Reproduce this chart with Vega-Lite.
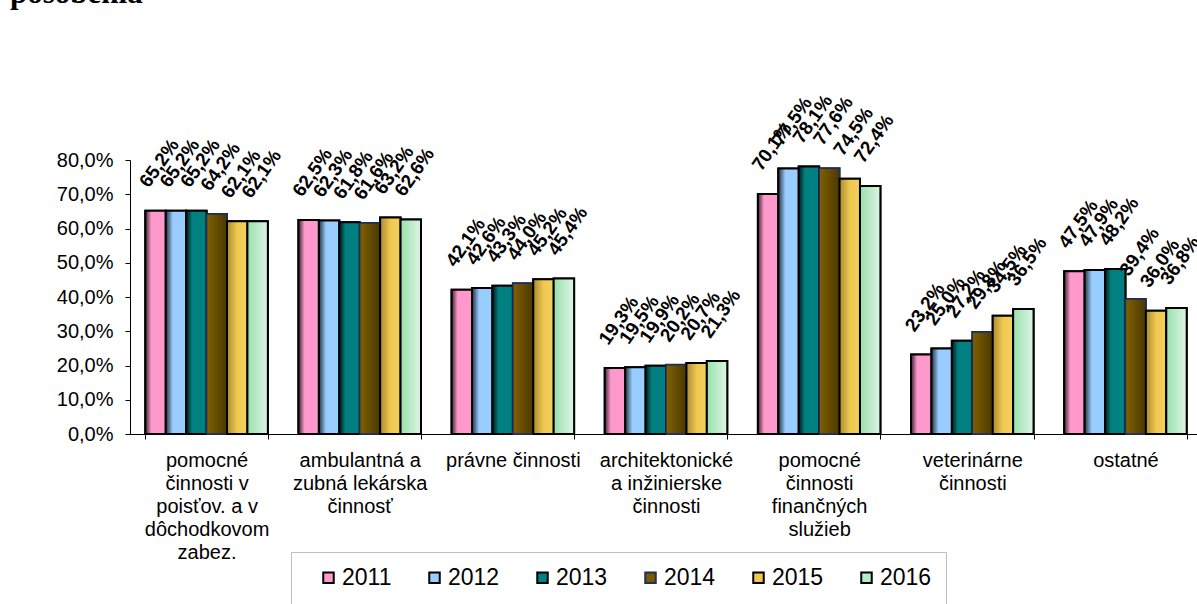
{
  "$schema": "https://vega.github.io/schema/vega-lite/v6.json",
  "width": 1067,
  "height": 274,
  "autosize": {"type": "none"},
  "padding": {"left": 130, "top": 160, "right": 0, "bottom": 170},
  "background": "white",
  "title": {
    "text": "posobenia",
    "font": "Liberation Serif",
    "fontSize": 31,
    "fontWeight": "bold",
    "color": "black",
    "anchor": "start",
    "frame": "group",
    "baseline": "alphabetic",
    "offset": 92,
    "dx": -120,
    "dy": 34
  },
  "config": {
    "locale": {"number": {"decimal": ",", "thousands": " ", "grouping": [3], "currency": ["", " €"]}},
    "view": {"stroke": null},
    "font": "Liberation Sans"
  },
  "data": {
    "values": [
      {"cat": "pomocné činnosti v poisťov. a v dôchodkovom zabez.", "year": "2011", "v": 0.652},
      {"cat": "pomocné činnosti v poisťov. a v dôchodkovom zabez.", "year": "2012", "v": 0.652},
      {"cat": "pomocné činnosti v poisťov. a v dôchodkovom zabez.", "year": "2013", "v": 0.652},
      {"cat": "pomocné činnosti v poisťov. a v dôchodkovom zabez.", "year": "2014", "v": 0.642},
      {"cat": "pomocné činnosti v poisťov. a v dôchodkovom zabez.", "year": "2015", "v": 0.621},
      {"cat": "pomocné činnosti v poisťov. a v dôchodkovom zabez.", "year": "2016", "v": 0.621},
      {"cat": "ambulantná a zubná lekárska činnosť", "year": "2011", "v": 0.625},
      {"cat": "ambulantná a zubná lekárska činnosť", "year": "2012", "v": 0.623},
      {"cat": "ambulantná a zubná lekárska činnosť", "year": "2013", "v": 0.618},
      {"cat": "ambulantná a zubná lekárska činnosť", "year": "2014", "v": 0.616},
      {"cat": "ambulantná a zubná lekárska činnosť", "year": "2015", "v": 0.632},
      {"cat": "ambulantná a zubná lekárska činnosť", "year": "2016", "v": 0.626},
      {"cat": "právne činnosti", "year": "2011", "v": 0.421},
      {"cat": "právne činnosti", "year": "2012", "v": 0.426},
      {"cat": "právne činnosti", "year": "2013", "v": 0.433},
      {"cat": "právne činnosti", "year": "2014", "v": 0.440},
      {"cat": "právne činnosti", "year": "2015", "v": 0.452},
      {"cat": "právne činnosti", "year": "2016", "v": 0.454},
      {"cat": "architektonické a inžinierske činnosti", "year": "2011", "v": 0.193},
      {"cat": "architektonické a inžinierske činnosti", "year": "2012", "v": 0.195},
      {"cat": "architektonické a inžinierske činnosti", "year": "2013", "v": 0.199},
      {"cat": "architektonické a inžinierske činnosti", "year": "2014", "v": 0.202},
      {"cat": "architektonické a inžinierske činnosti", "year": "2015", "v": 0.207},
      {"cat": "architektonické a inžinierske činnosti", "year": "2016", "v": 0.213},
      {"cat": "pomocné činnosti finančných služieb", "year": "2011", "v": 0.701},
      {"cat": "pomocné činnosti finančných služieb", "year": "2012", "v": 0.775},
      {"cat": "pomocné činnosti finančných služieb", "year": "2013", "v": 0.781},
      {"cat": "pomocné činnosti finančných služieb", "year": "2014", "v": 0.776},
      {"cat": "pomocné činnosti finančných služieb", "year": "2015", "v": 0.745},
      {"cat": "pomocné činnosti finančných služieb", "year": "2016", "v": 0.724},
      {"cat": "veterinárne činnosti", "year": "2011", "v": 0.232},
      {"cat": "veterinárne činnosti", "year": "2012", "v": 0.250},
      {"cat": "veterinárne činnosti", "year": "2013", "v": 0.272},
      {"cat": "veterinárne činnosti", "year": "2014", "v": 0.298},
      {"cat": "veterinárne činnosti", "year": "2015", "v": 0.345},
      {"cat": "veterinárne činnosti", "year": "2016", "v": 0.365},
      {"cat": "ostatné", "year": "2011", "v": 0.475},
      {"cat": "ostatné", "year": "2012", "v": 0.479},
      {"cat": "ostatné", "year": "2013", "v": 0.482},
      {"cat": "ostatné", "year": "2014", "v": 0.394},
      {"cat": "ostatné", "year": "2015", "v": 0.360},
      {"cat": "ostatné", "year": "2016", "v": 0.368}
    ]
  },
  "encoding": {
    "x": {
      "field": "cat",
      "type": "nominal",
      "sort": null,
      "scale": {"range": [0, 1072], "paddingInner": 0.2, "paddingOuter": 0.1},
      "axis": {
        "title": null,
        "labelAngle": 0,
        "labelFontSize": 20,
        "labelFont": "Liberation Sans",
        "labelColor": "black",
        "labelLineHeight": 23,
        "labelPadding": 11,
        "labelLimit": 300,
        "labelOverlap": false,
        "labelBound": false,
        "tickBand": "extent",
        "tickSize": 5,
        "tickColor": "black",
        "domainColor": "black",
        "labelExpr": "{'pomocné činnosti v poisťov. a v dôchodkovom zabez.': ['pomocné', 'činnosti v', 'poisťov. a v', 'dôchodkovom', 'zabez.'], 'ambulantná a zubná lekárska činnosť': ['ambulantná a', 'zubná lekárska', 'činnosť'], 'architektonické a inžinierske činnosti': ['architektonické', 'a inžinierske', 'činnosti'], 'pomocné činnosti finančných služieb': ['pomocné', 'činnosti', 'finančných', 'služieb'], 'veterinárne činnosti': ['veterinárne', 'činnosti']}[datum.value] || datum.value"
      }
    },
    "xOffset": {"field": "year", "type": "nominal", "scale": {"paddingInner": 0, "paddingOuter": 0}},
    "y": {
      "field": "v",
      "type": "quantitative",
      "scale": {"domain": [0, 0.8], "nice": false},
      "axis": {
        "title": null,
        "format": ".1%",
        "values": [0, 0.1, 0.2, 0.3, 0.4, 0.5, 0.6, 0.7, 0.8],
        "grid": false,
        "labelFontSize": 20,
        "labelFont": "Liberation Sans",
        "labelColor": "black",
        "labelPadding": 12,
        "tickSize": 5,
        "tickColor": "black",
        "domainColor": "black"
      }
    }
  },
  "layer": [
    {
      "mark": {"type": "bar", "strokeWidth": 2},
      "encoding": {
        "color": {
          "field": "year",
          "type": "nominal",
          "scale": {
            "domain": ["2011", "2012", "2013", "2014", "2015", "2016"],
            "range": ["#ff99cc", "#99ccff", "#008080", "#7a5a00", "#f0c850", "#b4ecc4"]
          },
          "legend": {
            "title": null,
            "orient": "none",
            "legendX": 161,
            "legendY": 392,
            "direction": "horizontal",
            "columns": 6,
            "columnPadding": 19,
            "symbolType": "square",
            "symbolSize": 110,
            "symbolOffset": 12,
            "symbolStrokeColor": "black",
            "symbolStrokeWidth": 2,
            "labelFontSize": 23,
            "labelFont": "Liberation Sans",
            "labelColor": "black",
            "labelOffset": 2,
            "padding": 14,
            "strokeColor": "#bfbfbf",
            "fillColor": "white"
          }
        },
        "stroke": {
          "field": "year",
          "type": "nominal",
          "scale": {
            "domain": ["2011", "2012", "2013", "2014", "2015", "2016"],
            "range": ["#000000", "#000000", "#000000", "#1f2d5f", "#000000", "#000000"]
          },
          "legend": null
        }
      }
    },
    {
      "transform": [{"filter": "datum.year === '2011'"}],
      "mark": {"type": "bar", "stroke": "#000000", "strokeWidth": 2, "color": {"gradient": "linear", "x1": 0, "y1": 0, "x2": 1, "y2": 0, "stops": [{"offset": 0, "color": "#3a2430"}, {"offset": 0.3, "color": "#ff99cc"}, {"offset": 1, "color": "#ff99cc"}]}}
    },
    {
      "transform": [{"filter": "datum.year === '2012'"}],
      "mark": {"type": "bar", "stroke": "#000000", "strokeWidth": 2, "color": {"gradient": "linear", "x1": 0, "y1": 0, "x2": 1, "y2": 0, "stops": [{"offset": 0, "color": "#25303d"}, {"offset": 0.35, "color": "#99ccff"}, {"offset": 1, "color": "#99ccff"}]}}
    },
    {
      "transform": [{"filter": "datum.year === '2013'"}],
      "mark": {"type": "bar", "stroke": "#000000", "strokeWidth": 2, "color": {"gradient": "linear", "x1": 0, "y1": 0, "x2": 1, "y2": 0, "stops": [{"offset": 0, "color": "#001a1a"}, {"offset": 0.3, "color": "#008080"}, {"offset": 1, "color": "#008080"}]}}
    },
    {
      "transform": [{"filter": "datum.year === '2014'"}],
      "mark": {"type": "bar", "stroke": "#1f2d5f", "strokeWidth": 1.5, "color": {"gradient": "linear", "x1": 0, "y1": 0, "x2": 1, "y2": 0, "stops": [{"offset": 0, "color": "#806000"}, {"offset": 1, "color": "#4a3800"}]}}
    },
    {
      "transform": [{"filter": "datum.year === '2015'"}],
      "mark": {"type": "bar", "stroke": "#000000", "strokeWidth": 2, "color": {"gradient": "linear", "x1": 0, "y1": 0, "x2": 1, "y2": 0, "stops": [{"offset": 0, "color": "#a88a30"}, {"offset": 0.5, "color": "#f0c850"}, {"offset": 1, "color": "#f2d060"}]}}
    },
    {
      "transform": [{"filter": "datum.year === '2016'"}],
      "mark": {"type": "bar", "stroke": "#000000", "strokeWidth": 2, "color": {"gradient": "linear", "x1": 0, "y1": 0, "x2": 1, "y2": 0, "stops": [{"offset": 0, "color": "#99e0ac"}, {"offset": 1, "color": "#def5e6"}]}}
    },
    {
      "mark": {
        "type": "text",
        "align": "center",
        "baseline": "middle",
        "angle": -55,
        "dx": 41,
        "dy": -24,
        "fontSize": 19,
        "fontWeight": "bold",
        "font": "Liberation Sans",
        "color": "black"
      },
      "encoding": {
        "text": {"field": "v", "type": "quantitative", "format": ".1%"}
      }
    }
  ]
}
